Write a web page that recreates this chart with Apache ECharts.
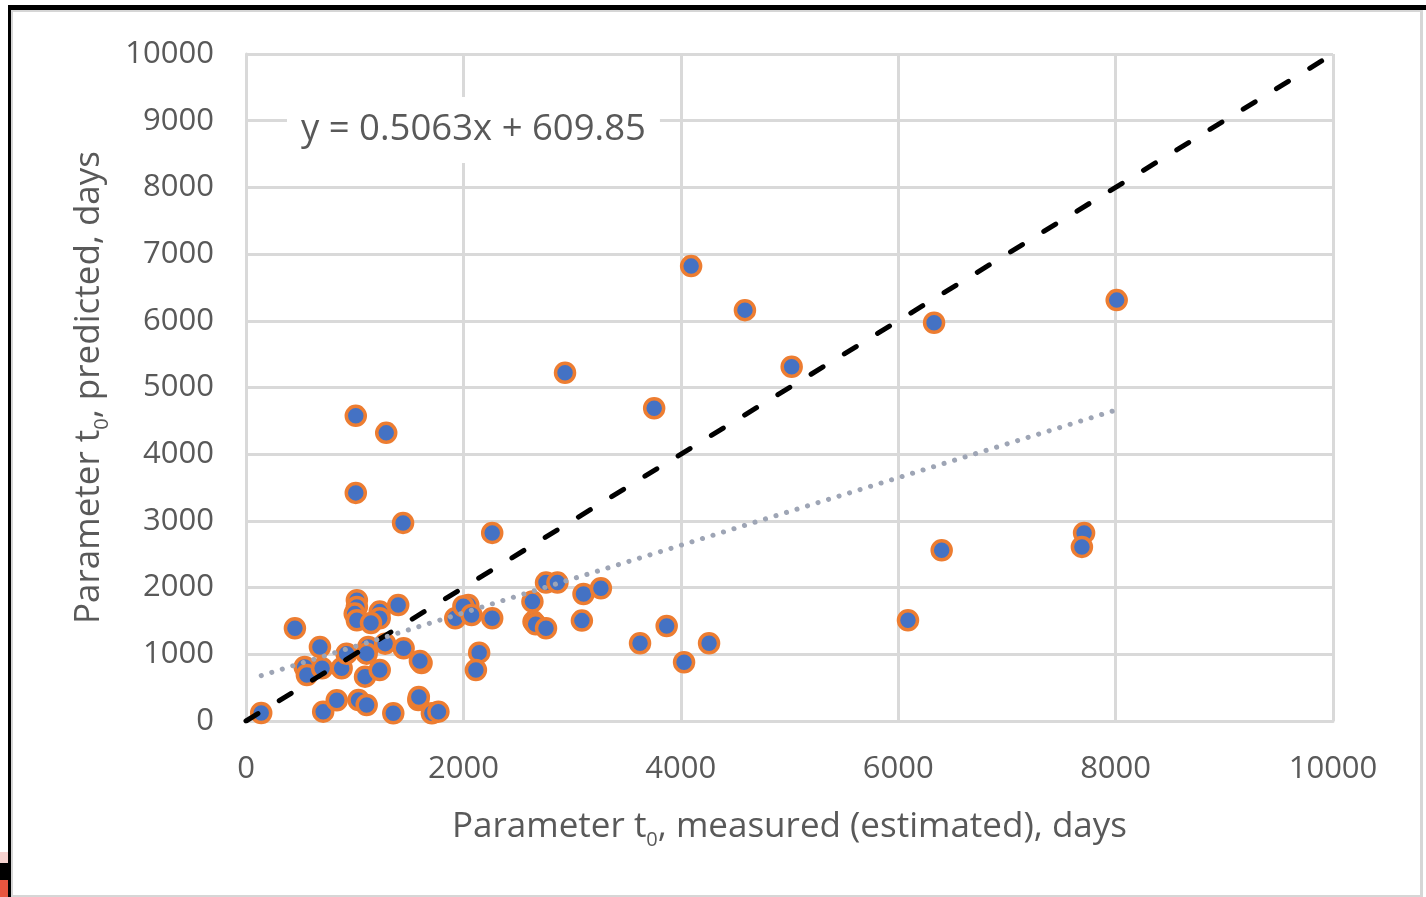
<!DOCTYPE html>
<html>
<head>
<meta charset="utf-8">
<script src="https://cdn.jsdelivr.net/npm/echarts@6/dist/echarts.min.js"></script>
<style>
  html, body { margin: 0; padding: 0; background: #fff; }
  body { width: 1426px; height: 897px; position: relative; overflow: hidden; }
  #frameOuter { position: absolute; left: 8px; top: 5px; width: 1418px; height: 892px;
    border-top: 5px solid #000; border-left: 3px solid #000; box-sizing: border-box; }
  #frameInner { position: absolute; left: 11px; top: 10px; width: 1412px; height: 887px;
    border-top: 2px solid #d6d6d6; border-left: 2px solid #d6d6d6; border-right: 3px solid #d6d6d6;
    border-bottom: 2px solid #d6d6d6; box-sizing: border-box; }
  .blob { position: absolute; left: 0; width: 8px; }
  #chart { position: absolute; left: 0; top: 0; width: 1426px; height: 897px; z-index: 2; }
</style>
</head>
<body>
<div id="frameOuter"></div>
<div id="frameInner"></div>
<div class="blob" style="top:852px;height:11px;background:#f6d2cf;"></div>
<div class="blob" style="top:863px;height:17px;background:#000;"></div>
<div class="blob" style="top:880px;height:17px;background:#e8553f;"></div>
<div id="chart"></div>
<script>
// Measured t0 (x, days) and predicted t0 (y, days)
const measured = [
  140, 450, 680, 540, 560, 700, 880, 925, 710, 835,
  1020, 1020, 1000, 1020, 1230, 1230, 1150, 1400, 1125, 1110,
  1280, 1450, 1615, 1600, 1095, 1230, 1035, 1110, 1355, 1585,
  1590, 1710, 1770, 1010, 1290, 1010, 1445, 2265, 1925, 2045,
  2000, 2075, 2265, 2145, 2115, 2760, 2865, 2635, 2645, 2665,
  2760, 3105, 3265, 3090, 3625, 3870, 4030, 4260, 4095, 4590,
  2935, 3755, 5020, 6330, 8010, 6400, 6090, 7710, 7690
];
const predicted = [
  120, 1390, 1110, 810, 690, 790, 790, 1010, 140, 310,
  1810, 1710, 1610, 1510, 1640, 1540, 1470, 1740, 1110, 1010,
  1160, 1090, 870, 900, 665, 765, 315, 240, 115, 315,
  360, 115, 140, 4575, 4320, 3420, 2970, 2820, 1540, 1740,
  1720, 1590, 1540, 1025, 765, 2075, 2075, 1790, 1490, 1450,
  1390, 1905, 1990, 1505, 1165, 1425, 880, 1165, 6820, 6160,
  5220, 4690, 5310, 5970, 6310, 2560, 1510, 2820, 2610
];
// 1:1 reference line
const refX = [0, 10000];
const refY = [0, 10000];
// Linear trendline y = 0.5063x + 609.85 over the measured range
const trendSlope = 0.5063;
const trendIntercept = 609.85;
const trendX = [140, 8010];
const equationText = 'y = 0.5063x + 609.85';
// Axis ticks
const xTicks = [0, 2000, 4000, 6000, 8000, 10000];
const yTicks = [0, 1000, 2000, 3000, 4000, 5000, 6000, 7000, 8000, 9000, 10000];

const FONT = '"Open Sans", "Noto Sans", sans-serif';
const GRID = '#d9d9d9';
const TXT = '#595959';

const points = measured.map((x, i) => [x, predicted[i]]);
const refLine = refX.map((x, i) => [x, refY[i]]);
const trendLine = trendX.map(x => [x, trendSlope * x + trendIntercept]);

const titleRich = {
  a: { fontSize: 35, fontFamily: FONT, color: TXT, lineHeight: 46 },
  s: { fontSize: 20, fontFamily: FONT, color: TXT, lineHeight: 20, verticalAlign: 'bottom' }
};
const plainNum = v => String(v);

const chart = echarts.init(document.getElementById('chart'), null, { renderer: 'canvas' });
chart.setOption({
  animation: false,
  backgroundColor: 'transparent',
  title: {
    text: equationText,
    left: 287, top: 97,
    padding: [13, 14, 13, 14],
    backgroundColor: '#ffffff',
    textStyle: { fontFamily: FONT, fontSize: 36.5, fontWeight: 'normal', color: TXT, lineHeight: 40 }
  },
  grid: { left: 246, right: 93, top: 54, bottom: 176, containLabel: false },
  xAxis: {
    type: 'value', min: xTicks[0], max: xTicks[xTicks.length - 1], interval: xTicks[1] - xTicks[0],
    name: '{a|Parameter t}{s|0}{a|, measured (estimated), days}',
    nameLocation: 'middle', nameGap: 83,
    nameTextStyle: { rich: titleRich },
    axisLine: { show: true, lineStyle: { color: GRID, width: 3 } },
    axisTick: { show: false },
    splitLine: { show: true, lineStyle: { color: GRID, width: 3 } },
    axisLabel: { fontFamily: FONT, fontSize: 31, color: TXT, margin: 33, formatter: plainNum }
  },
  yAxis: {
    type: 'value', min: yTicks[0], max: yTicks[yTicks.length - 1], interval: yTicks[1] - yTicks[0],
    name: '{a|Parameter t}{s|0}{a|, predicted, days}',
    nameLocation: 'middle', nameGap: 134,
    nameTextStyle: { rich: titleRich },
    axisLine: { show: true, lineStyle: { color: GRID, width: 3 } },
    axisTick: { show: false },
    splitLine: { show: true, lineStyle: { color: GRID, width: 3 } },
    axisLabel: { fontFamily: FONT, fontSize: 31, color: TXT, margin: 32, formatter: plainNum }
  },
  series: [
    {
      type: 'scatter', data: points, symbol: 'circle', symbolSize: 19, z: 3,
      itemStyle: { color: '#4472C4', borderColor: '#ED7D31', borderWidth: 3.5, opacity: 1 }
    },
    {
      type: 'line', data: refLine, symbol: 'none', z: 4,
      lineStyle: { color: '#000', width: 5, type: [14, 25], cap: 'round' }
    },
    {
      type: 'line', data: trendLine, symbol: 'none', z: 4,
      lineStyle: { color: '#9ea5b5', width: 5, type: [0.1, 10.9], cap: 'round' }
    }
  ]
});
</script>
</body>
</html>
